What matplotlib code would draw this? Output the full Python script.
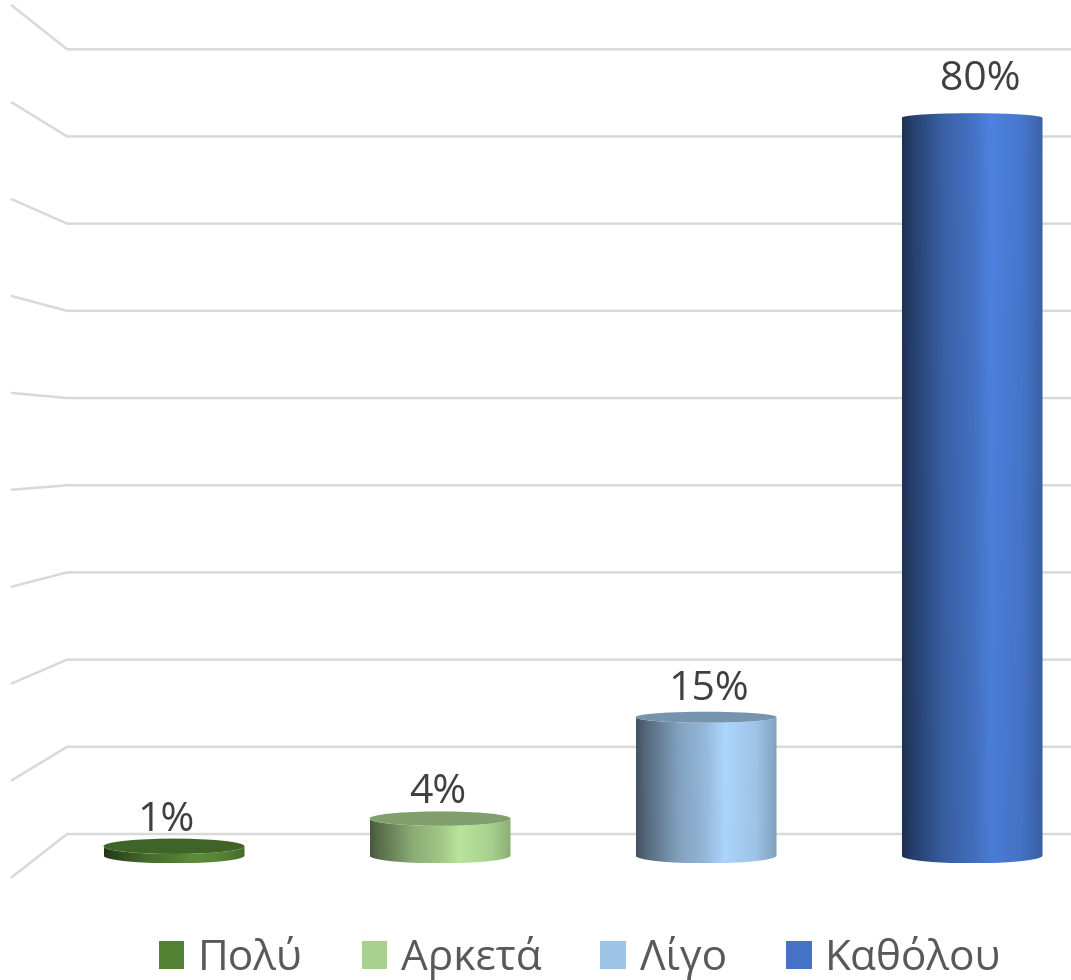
import numpy as np
import matplotlib
matplotlib.use("Agg")
import matplotlib.pyplot as plt
from matplotlib.patches import Ellipse, Patch, PathPatch
from matplotlib.path import Path
from matplotlib.colors import to_rgb

# --- DATA ---
categories = ["Πολύ", "Αρκετά", "Λίγο", "Καθόλου"]
values = [1, 4, 15, 80]
colors = ["#548235", "#A9D18E", "#9DC3E6", "#4472C4"]
grid_levels = [0, 10, 20, 30, 40, 50, 60, 70, 80, 90]

plt.rcParams["font.family"] = ["Open Sans", "DejaVu Sans"]

W, H = 1071, 980
PX_X = 266.0    # pixels per category
PX_Y = 9.22     # pixels per percent at bar depth
X0 = 174.0      # pixel of first bar centre
Y0 = 855.5      # pixel of value 0 at bar centre

fig = plt.figure(figsize=(W / 100, H / 100), dpi=100)
ax = fig.add_axes([0, 0, 1, 1])

# shading across a cylinder (position, factor on the series colour)
stops_t = [0.0, 0.06, 0.3, 0.5, 0.63, 0.85, 1.0]
stops_f = [0.42, 0.52, 0.82, 0.95, 1.09, 1.0, 0.82]
bar_w = 141 / PX_X
base_ry = 0.85


def cap_ry(v):
    # perspective: cap flattens, then is seen from below on tall bars
    return 0.85 - 0.017 * v


# --- WALLS ---
for lev in grid_levels:
    back = lev * 0.9457 + 2.33
    front = lev * 1.05 - 2.33
    ax.plot([-0.609, -0.402, 3.5], [front, back, back], color="#d9d9d9", lw=1.8,
            solid_joinstyle="miter", zorder=1)

# --- BARS ---
t = np.linspace(0, 1, 256)
theta = np.linspace(0, np.pi, 80)
for i, (v, c) in enumerate(zip(values, colors)):
    rgb = np.array(to_rgb(c))
    fac = np.interp(t, stops_t, stops_f)
    rows = np.linspace(1 + 0.0006 * v, 1, 32)
    img = np.clip(rows[:, None, None] * fac[None, :, None] * rgb[None, None, :], 0, 1)

    ry = cap_ry(v)
    left, right = i - bar_w / 2, i + bar_w / 2
    xs = i - np.cos(theta) * bar_w / 2
    low = -np.sin(theta) * base_ry
    top = v - np.sin(theta[::-1]) * ry
    verts = np.vstack([np.column_stack([xs, low]),
                       np.column_stack([xs[::-1], top]),
                       [[left, low[0]]]])
    codes = [Path.MOVETO] + [Path.LINETO] * (len(verts) - 2) + [Path.CLOSEPOLY]
    im = ax.imshow(img, extent=[left, right, -base_ry, v + abs(ry)], aspect="auto",
                   interpolation="bilinear", zorder=3)
    im.set_clip_path(PathPatch(Path(verts, codes), transform=ax.transData))

    if ry > 0:
        ax.add_patch(Ellipse((i, v), bar_w, 2 * ry, facecolor=rgb * 0.76, edgecolor="none", zorder=4))

    ax.annotate(f"{v}%", (i, v), xytext=(-8 + 5.33 * i, 15 + 0.16 * v), textcoords="offset pixels",
                ha="center", va="baseline", fontsize=29.5, color="#404040", zorder=5)

# --- AXES ---
ax.set_xlim(-X0 / PX_X, (W - X0) / PX_X)
ax.set_ylim((Y0 - H) / PX_Y, Y0 / PX_Y)
ax.axis("off")

handles = [Patch(facecolor=c, edgecolor="none", label=n) for n, c in zip(categories, colors)]
ax.legend(handles=handles, ncol=4, loc="lower center", bbox_to_anchor=(0.5416, 0.0), frameon=False,
          prop={"size": 30.5}, labelcolor="#595959", handlelength=0.61, handleheight=0.61,
          handletextpad=0.32, columnspacing=1.39, borderpad=0, borderaxespad=0)

fig.savefig("out.png", dpi=100)
